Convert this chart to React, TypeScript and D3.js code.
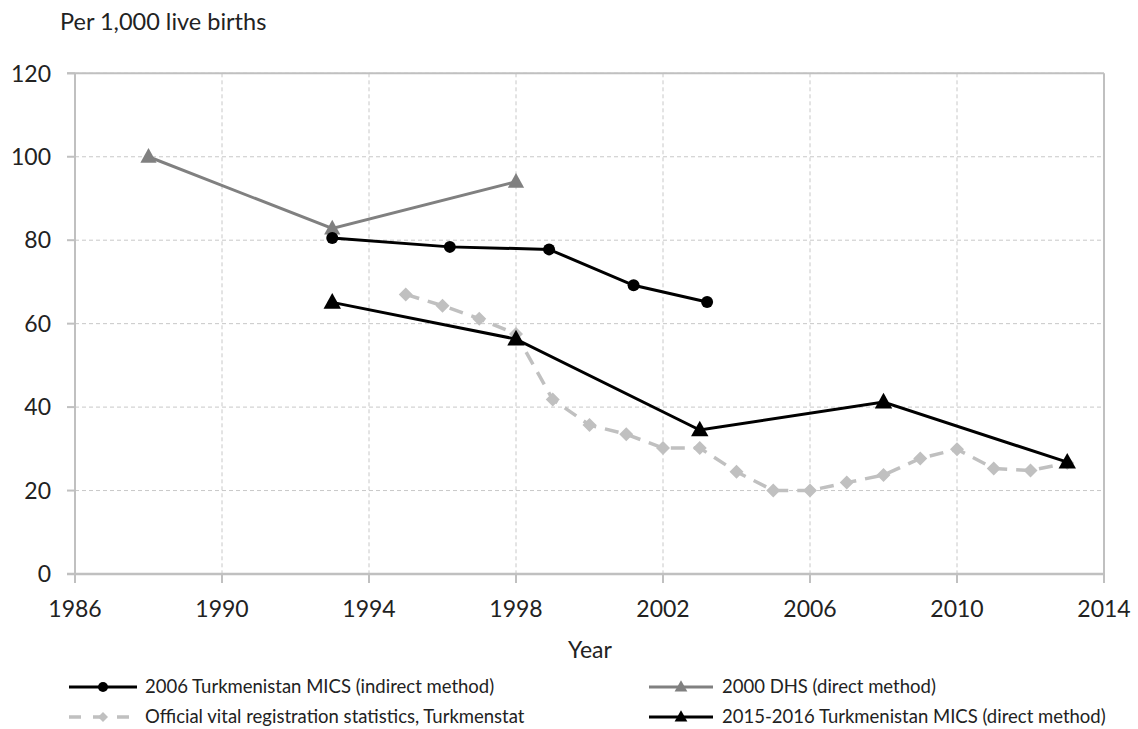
import React from "react";
import * as d3 from "d3";

const dhsYears = [1988, 1993, 1998];
const dhsValues = [100, 82.8, 94];

const mics2006Years = [1993, 1996.2, 1998.9, 2001.2, 2003.2];
const mics2006Values = [80.5, 78.4, 77.8, 69.2, 65.2];

const vitalYears = [1995, 1996, 1997, 1998, 1999, 2000, 2001, 2002, 2003, 2004, 2005, 2006, 2007, 2008, 2009, 2010, 2011, 2012, 2013];
const vitalValues = [67.0, 64.3, 61.2, 57.5, 41.8, 35.7, 33.5, 30.2, 30.2, 24.5, 20.0, 20.0, 21.9, 23.7, 27.7, 29.9, 25.3, 24.8, 26.6];

const mics2015Years = [1993, 1998, 2003, 2008, 2013];
const mics2015Values = [65.1, 56.3, 34.5, 41.2, 26.8];

const xTicks = [1986, 1990, 1994, 1998, 2002, 2006, 2010, 2014];
const yTicks = [0, 20, 40, 60, 80, 100, 120];

const legendLabels = [
  "2006 Turkmenistan MICS (indirect method)",
  "2000 DHS (direct method)",
  "Official vital registration statistics, Turkmenstat",
  "2015-2016 Turkmenistan MICS (direct method)",
];

const FONT = "Lato, 'Open Sans', sans-serif";
const W = 1138;
const H = 729;

const x = d3.scaleLinear().domain([1986, 2014]).range([75, 1104]);
const y = d3.scaleLinear().domain([0, 120]).range([574, 73.3]);

type Pt = [number, number];
const zip = (xs: number[], ys: number[]): Pt[] => xs.map((v, i) => [v, ys[i]]);

const line = d3
  .line<Pt>()
  .x((d) => x(d[0]))
  .y((d) => y(d[1]));

const triPath = (cx: number, cy: number, s: number) =>
  `M${cx},${cy - s * 0.62}L${cx + s * 0.58},${cy + s * 0.42}L${cx - s * 0.58},${cy + s * 0.42}Z`;
const diaPath = (cx: number, cy: number, s: number) =>
  `M${cx},${cy - s}L${cx + s},${cy}L${cx},${cy + s}L${cx - s},${cy}Z`;

export default function App() {
  const dhs = zip(dhsYears, dhsValues);
  const m06 = zip(mics2006Years, mics2006Values);
  const vit = zip(vitalYears, vitalValues);
  const m15 = zip(mics2015Years, mics2015Values);

  const grid = "#c8c8c8";
  const axisC = "#c0c0c0";
  const gray = "#808080";
  const light = "#c0c0c0";

  return (
    <svg width={W} height={H} style={{ display: "block", position: "absolute", left: 0, top: 0, background: "#fff" }}>
      <rect x={0} y={0} width={W} height={H} fill="#fff" />
      <text x={60} y={30} fontFamily={FONT} fontSize={23.5} fill="#222">
        Per 1,000 live births
      </text>

      {/* horizontal gridlines */}
      {yTicks.filter((t) => t > 0).map((t) => (
        <line key={"hg" + t} x1={x(1986)} x2={x(2014)} y1={y(t)} y2={y(t)} stroke={grid} strokeWidth={1} strokeDasharray="4,3" />
      ))}
      {/* vertical gridlines */}
      {xTicks.filter((t) => t > 1986 && t < 2014).map((t) => (
        <line key={"vg" + t} x1={x(t)} x2={x(t)} y1={y(120)} y2={y(0)} stroke={grid} strokeWidth={1} strokeDasharray="4,3" />
      ))}
      {/* top border */}
      <line x1={x(1986) - 8} x2={x(2014)} y1={y(120)} y2={y(120)} stroke={axisC} strokeWidth={2} />
      {/* right border */}
      <line x1={x(2014)} x2={x(2014)} y1={y(120)} y2={y(0) + 9} stroke={axisC} strokeWidth={2} />
      {/* y axis */}
      <line x1={x(1986)} x2={x(1986)} y1={y(120)} y2={y(0) + 9} stroke={axisC} strokeWidth={2} />
      {yTicks.map((t) => (
        <g key={"yt" + t}>
          <line x1={x(1986) - 8} x2={x(1986)} y1={y(t)} y2={y(t)} stroke={axisC} strokeWidth={2} />
          <text x={51} y={y(t)} dy="0.36em" textAnchor="end" fontFamily={FONT} fontSize={23} fill="#222">
            {t}
          </text>
        </g>
      ))}
      {/* x axis */}
      <line x1={x(1986) - 8} x2={x(2014)} y1={y(0)} y2={y(0)} stroke={axisC} strokeWidth={2.5} />
      {xTicks.map((t) => (
        <g key={"xt" + t}>
          <line x1={x(t)} x2={x(t)} y1={y(0)} y2={y(0) + 9} stroke={axisC} strokeWidth={2} />
          <text x={x(t)} y={617} textAnchor="middle" fontFamily={FONT} fontSize={23} fill="#222">
            {t}
          </text>
        </g>
      ))}
      <text x={590} y={658} textAnchor="middle" fontFamily={FONT} fontSize={23} fill="#222">
        Year
      </text>

      {/* Official vital registration */}
      <path d={line(vit) || ""} fill="none" stroke={light} strokeWidth={3.5} strokeDasharray="14,9" />
      {vit.map((d, i) => (
        <path key={"v" + i} d={diaPath(x(d[0]), y(d[1]), 7)} fill={light} />
      ))}

      {/* 2000 DHS */}
      <path d={line(dhs) || ""} fill="none" stroke={gray} strokeWidth={3} />
      {dhs.map((d, i) => (
        <path key={"d" + i} d={triPath(x(d[0]), y(d[1]), 14)} fill={gray} />
      ))}

      {/* 2006 MICS */}
      <path d={line(m06) || ""} fill="none" stroke="#000" strokeWidth={3} />
      {m06.map((d, i) => (
        <circle key={"m" + i} cx={x(d[0])} cy={y(d[1])} r={6} fill="#000" />
      ))}

      {/* 2015-2016 MICS */}
      <path d={line(m15) || ""} fill="none" stroke="#000" strokeWidth={3} />
      {m15.map((d, i) => (
        <path key={"n" + i} d={triPath(x(d[0]), y(d[1]), 15)} fill="#000" />
      ))}

      {/* Legend */}
      <g>
        <line x1={69} x2={137} y1={687} y2={687} stroke="#000" strokeWidth={3} />
        <circle cx={103} cy={687} r={5} fill="#000" />
        <text x={145} y={687} dy="0.35em" fontFamily={FONT} fontSize={18.5} fill="#222">
          {legendLabels[0]}
        </text>

        <line x1={649} x2={713} y1={687} y2={687} stroke={gray} strokeWidth={3} />
        <path d={triPath(681, 687, 11)} fill={gray} />
        <text x={722} y={687} dy="0.35em" fontFamily={FONT} fontSize={18.5} fill="#222">
          {legendLabels[1]}
        </text>

        <line x1={69} x2={137} y1={717} y2={717} stroke={light} strokeWidth={3.5} strokeDasharray="12,12" />
        <path d={diaPath(103, 717, 5)} fill={light} />
        <text x={145} y={717} dy="0.35em" fontFamily={FONT} fontSize={18.5} fill="#222">
          {legendLabels[2]}
        </text>

        <line x1={649} x2={713} y1={717} y2={717} stroke="#000" strokeWidth={3} />
        <path d={triPath(681, 717, 11)} fill="#000" />
        <text x={722} y={717} dy="0.35em" fontFamily={FONT} fontSize={18.5} fill="#222">
          {legendLabels[3]}
        </text>
      </g>
    </svg>
  );
}
